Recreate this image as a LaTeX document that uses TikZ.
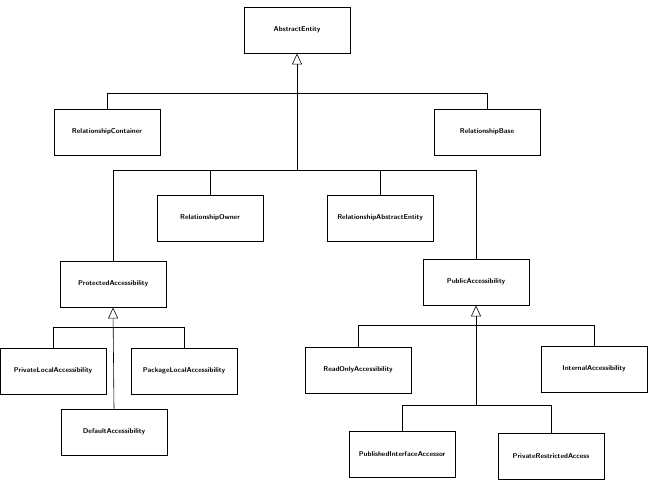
\documentclass[tikz,border=0pt]{standalone}
\usepackage{tikz}
\usetikzlibrary{arrows.meta}

\begin{document}
\begin{tikzpicture}[x=1pt, y=-1pt,
    cls/.style={draw, line width=0.9pt, minimum width=106pt, minimum height=46pt, align=center, font=\sffamily\bfseries\fontsize{7}{8}\selectfont},
    inh/.style={-{Triangle[open, length=11pt, width=10pt]}, line width=0.6pt},
    lnk/.style={line width=0.6pt}
]
\useasboundingbox (0,0) rectangle (655,484);

\node[cls] (top) at (297,30) {AbstractEntity};
\node[cls] (cont) at (107,132) {RelationshipContainer};
\node[cls] (base) at (487,132) {RelationshipBase};
\node[cls] (owner) at (210,218) {RelationshipOwner};
\node[cls] (absent) at (380,218) {RelationshipAbstractEntity};
\node[cls] (prot) at (113,284) {ProtectedAccessibility};
\node[cls] (pub) at (476,282) {PublicAccessibility};
\node[cls] (priv) at (53,371) {PrivateLocalAccessibility};
\node[cls] (pack) at (184,371) {PackageLocalAccessibility};
\node[cls] (deflt) at (114,432) {DefaultAccessibility};
\node[cls] (ronly) at (358,370) {ReadOnlyAccessibility};
\node[cls] (intern) at (594,369) {InternalAccessibility};
\node[cls] (publ) at (402,454) {PublishedInterfaceAccessor};
\node[cls] (restr) at (551,456) {PrivateRestrictedAccess};

% bus points
\coordinate (busA) at (297,93);
\coordinate (busB) at (297,170);
\coordinate (busC) at (113,327);
\coordinate (busD) at (476,325);
\coordinate (busE) at (476,405);

% AbstractEntity tree
\draw[inh] (busB) -- (top.south);
\draw[lnk] (cont.north) |- (busA);
\draw[lnk] (base.north) |- (busA);
\draw[lnk] (prot.north) |- (busB);
\draw[lnk] (owner.north) |- (busB);
\draw[lnk] (absent.north) |- (busB);
\draw[lnk] (pub.north) |- (busB);

% ProtectedAccessibility tree
\draw[inh] (deflt.north) -- (prot.south);
\draw[lnk] (priv.north) |- (busC);
\draw[lnk] (pack.north) |- (busC);

% PublicAccessibility tree
\draw[inh] (busE) -- (pub.south);
\draw[lnk] (ronly.north) |- (busD);
\draw[lnk] (intern.north) |- (busD);
\draw[lnk] (publ.north) |- (busE);
\draw[lnk] (restr.north) |- (busE);
\end{tikzpicture}
\end{document}
